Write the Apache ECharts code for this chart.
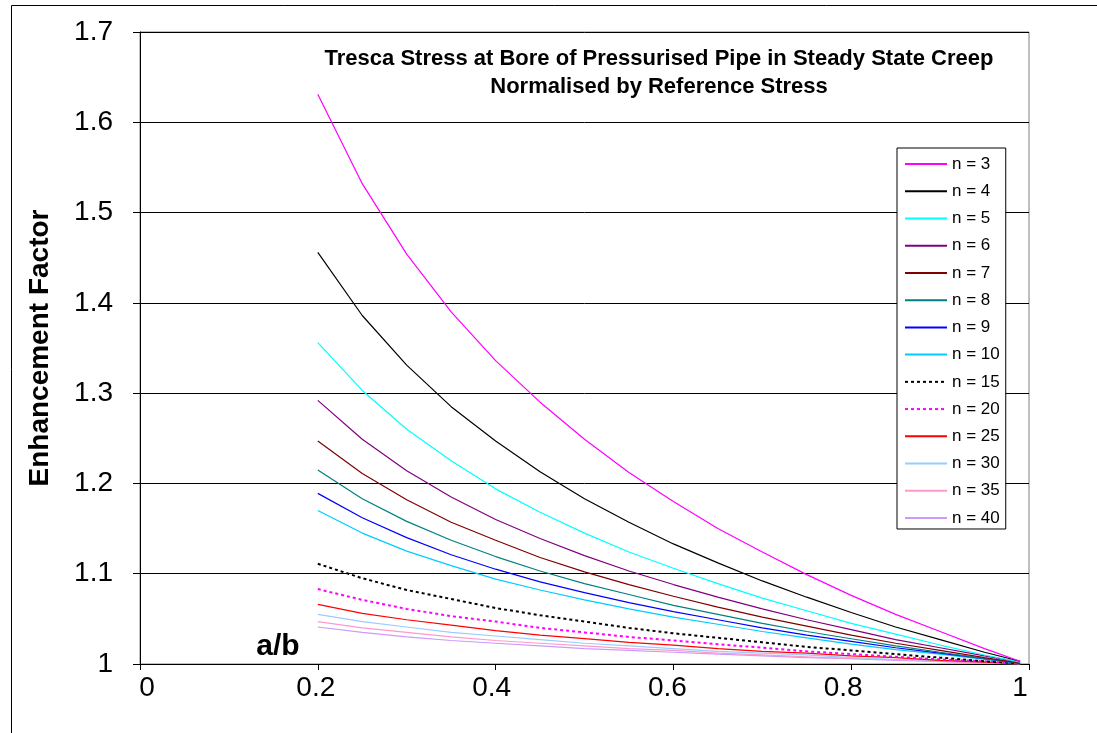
<!DOCTYPE html>
<html>
<head>
<meta charset="utf-8">
<script src="https://cdn.jsdelivr.net/npm/echarts@6/dist/echarts.min.js"></script>
<style>
html,body{margin:0;padding:0;background:#fff;}
#chart{width:1097px;height:733px;}
</style>
</head>
<body>
<div id="chart"></div>
<script>
// a/b ratio (x values)
const ratios = [0.2, 0.25, 0.3, 0.35, 0.4, 0.45, 0.5, 0.55, 0.6, 0.65, 0.7, 0.75, 0.8, 0.85, 0.9, 0.95, 0.99];

const seriesNames = ['n = 3','n = 4','n = 5','n = 6','n = 7','n = 8','n = 9','n = 10','n = 15','n = 20','n = 25','n = 30','n = 35','n = 40'];

const n3  = [1.631, 1.532, 1.454, 1.390, 1.336, 1.290, 1.249, 1.212, 1.180, 1.150, 1.124, 1.099, 1.076, 1.055, 1.036, 1.017, 1.003];
const n4  = [1.456, 1.386, 1.331, 1.285, 1.247, 1.213, 1.183, 1.157, 1.133, 1.112, 1.092, 1.074, 1.057, 1.041, 1.027, 1.013, 1.003];
const n5  = [1.356, 1.303, 1.260, 1.225, 1.194, 1.168, 1.145, 1.124, 1.106, 1.089, 1.073, 1.059, 1.045, 1.033, 1.021, 1.010, 1.002];
const n6  = [1.292, 1.249, 1.214, 1.185, 1.160, 1.139, 1.120, 1.103, 1.088, 1.074, 1.061, 1.049, 1.038, 1.027, 1.018, 1.009, 1.002];
const n7  = [1.247, 1.211, 1.182, 1.157, 1.137, 1.118, 1.102, 1.088, 1.075, 1.063, 1.052, 1.042, 1.032, 1.023, 1.015, 1.007, 1.001];
const n8  = [1.215, 1.183, 1.158, 1.137, 1.119, 1.103, 1.089, 1.077, 1.065, 1.055, 1.045, 1.036, 1.028, 1.020, 1.013, 1.006, 1.001];
const n9  = [1.189, 1.162, 1.140, 1.121, 1.105, 1.091, 1.079, 1.068, 1.058, 1.049, 1.040, 1.032, 1.025, 1.018, 1.012, 1.006, 1.001];
const n10 = [1.170, 1.145, 1.125, 1.109, 1.094, 1.082, 1.071, 1.061, 1.052, 1.044, 1.036, 1.029, 1.022, 1.016, 1.011, 1.005, 1.001];
const n15 = [1.111, 1.095, 1.082, 1.072, 1.062, 1.054, 1.047, 1.040, 1.034, 1.029, 1.024, 1.019, 1.015, 1.011, 1.007, 1.003, 1.001];
const n20 = [1.083, 1.071, 1.061, 1.053, 1.047, 1.040, 1.035, 1.030, 1.026, 1.022, 1.018, 1.014, 1.011, 1.008, 1.005, 1.003, 1.001];
const n25 = [1.066, 1.056, 1.049, 1.043, 1.037, 1.032, 1.028, 1.024, 1.021, 1.017, 1.014, 1.012, 1.009, 1.007, 1.004, 1.002, 1.000];
const n30 = [1.055, 1.047, 1.041, 1.035, 1.031, 1.027, 1.023, 1.020, 1.017, 1.014, 1.012, 1.010, 1.007, 1.005, 1.004, 1.002, 1.000];
const n35 = [1.047, 1.040, 1.035, 1.030, 1.026, 1.023, 1.020, 1.017, 1.015, 1.012, 1.010, 1.008, 1.006, 1.005, 1.003, 1.001, 1.000];
const n40 = [1.041, 1.035, 1.030, 1.026, 1.023, 1.020, 1.017, 1.015, 1.013, 1.011, 1.009, 1.007, 1.006, 1.004, 1.003, 1.001, 1.000];

const allValues = [n3, n4, n5, n6, n7, n8, n9, n10, n15, n20, n25, n30, n35, n40];

const xTicks = [0, 0.2, 0.4, 0.6, 0.8, 1];
const yTicks = [1, 1.1, 1.2, 1.3, 1.4, 1.5, 1.6, 1.7];

const titleLines = ['Tresca Stress at Bore of Pressurised Pipe in Steady State Creep', 'Normalised by Reference Stress'];
const yAxisTitle = 'Enhancement Factor';
const xAxisTitle = 'a/b';

const colors = ['#FF00FF','#000000','#00FFFF','#800080','#800000','#008080','#0000FF','#00CCFF','#000000','#FF00FF','#FF0000','#99CCFF','#FF99CC','#CC99FF'];
const dotted = [false,false,false,false,false,false,false,false,true,true,false,false,false,false];

const FONT = "'Liberation Sans', Arial, Helvetica, sans-serif";

// small horizontal nudges of the x tick labels (px, + = right), as placed in the original
const xLabelNudge = [7, -2, -4, -6, -8, -9];
const xRich = {};
xLabelNudge.forEach((d, i) => {
  xRich['s' + i] = {
    fontSize: 28, color: '#000', fontFamily: FONT,
    padding: d >= 0 ? [0, 0, 0, 2 * d] : [0, -2 * d, 0, 0]
  };
});

const series = seriesNames.map((name, i) => ({
  name: name,
  type: 'line',
  data: ratios.map((r, j) => [r, allValues[i][j]]),
  showSymbol: false,
  symbol: 'none',
  smooth: false,
  z: 20 - i,
  lineStyle: {
    color: colors[i],
    width: dotted[i] ? 2 : 1.2,
    type: dotted[i] ? [3, 3] : 'solid'
  },
  itemStyle: { color: colors[i] },
  emphasis: { disabled: true }
}));

const chart = echarts.init(document.getElementById('chart'));
chart.setOption({
  animation: false,
  backgroundColor: '#ffffff',
  textStyle: { fontFamily: FONT },
  grid: {
    left: 140, top: 32, width: 889, height: 632,
    show: true, borderColor: '#808080', borderWidth: 1, backgroundColor: 'transparent'
  },
  xAxis: {
    type: 'value',
    min: xTicks[0], max: xTicks[xTicks.length - 1], interval: 0.2,
    axisLine: { show: true, lineStyle: { color: '#000', width: 1 } },
    axisTick: { show: true, inside: false, length: 6, lineStyle: { color: '#000' } },
    axisLabel: { fontSize: 28, color: '#000', fontFamily: FONT, margin: 10,
      formatter: v => {
        const idx = Math.round(v / 0.2);
        return '{s' + idx + '|' + String(parseFloat(v.toFixed(1))) + '}';
      },
      rich: xRich },
    splitLine: { show: false }
  },
  yAxis: {
    type: 'value',
    min: yTicks[0], max: yTicks[yTicks.length - 1], interval: 0.1,
    name: yAxisTitle,
    nameLocation: 'middle',
    nameGap: 86,
    nameRotate: 90,
    nameTextStyle: { fontSize: 28, fontWeight: 'bold', color: '#000', fontFamily: FONT },
    axisLine: { show: true, lineStyle: { color: '#000', width: 1 } },
    axisTick: { show: true, inside: false, length: 7, lineStyle: { color: '#000' } },
    axisLabel: { fontSize: 28, color: '#000', fontFamily: FONT, margin: 27,
      formatter: v => String(parseFloat(v.toFixed(1))) },
    splitLine: { show: true, lineStyle: { color: '#000', width: 1 } }
  },
  legend: {
    orient: 'vertical',
    left: 897, top: 148,
    data: seriesNames,
    itemWidth: 42, itemHeight: 17, itemGap: 10.23,
    padding: [7.5, 6, 2.5, 7],
    backgroundColor: '#fff',
    borderColor: '#000', borderWidth: 1,
    itemStyle: { opacity: 0 },
    lineStyle: { width: 2 },
    textStyle: { fontSize: 17, color: '#000', fontFamily: FONT },
    selectedMode: false
  },
  graphic: [
    { type: 'rect', silent: true, z: 100, shape: { x: 11.5, y: 5.5, width: 1200, height: 1000 },
      style: { fill: 'none', stroke: '#000', lineWidth: 1 } },
    { type: 'text', silent: true, z: 100, x: 659, y: 59,
      style: { text: titleLines[0], align: 'center', verticalAlign: 'middle', font: "bold 22px " + FONT, fill: '#000' } },
    { type: 'text', silent: true, z: 100, x: 659, y: 87,
      style: { text: titleLines[1], align: 'center', verticalAlign: 'middle', font: "bold 22px " + FONT, fill: '#000' } },
    { type: 'text', silent: true, z: 100, x: 278, y: 647,
      style: { text: xAxisTitle, align: 'center', verticalAlign: 'middle', font: "bold 30px " + FONT, fill: '#000' } }
  ],
  series: series
});
</script>
</body>
</html>
